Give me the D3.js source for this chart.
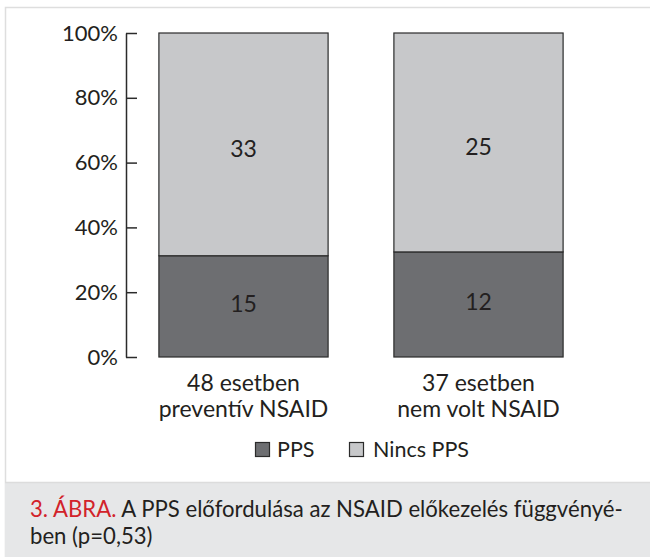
<!DOCTYPE html>
<html>
<head>
<meta charset="utf-8">
<script src="https://cdn.jsdelivr.net/npm/d3@7"></script>
<style>
  html, body { margin: 0; padding: 0; background: #fff; }
  svg { display: block; font-family: Lato, "Open Sans", sans-serif; }
</style>
</head>
<body>
<svg id="chart" width="650" height="557"></svg>
<script>
// ---- data ----
const categories = [["48 esetben", "preventív NSAID"], ["37 esetben", "nem volt NSAID"]];
const categoryKeys = ["prev", "nem"];
const seriesNames = ["PPS", "Nincs PPS"];
const ppsValues = [15, 12];
const ninesValues = [33, 25];
const yTicks = [0, 0.2, 0.4, 0.6, 0.8, 1.0];
const captionRed = "3. ÁBRA.";
const captionLine1 = " A PPS előfordulása az NSAID előkezelés függvényé-";
const captionLine2 = "ben (p=0,53)";

// ---- styles ----
const colors = ["#6d6e71", "#c7c8ca"];
const textColor = "#231f20";
const stroke = "#2b2b2b";

const svg = d3.select("#chart");

// frame & caption background
svg.append("rect").attr("x", 5.5).attr("y", 7.5).attr("width", 700).attr("height", 600)
  .attr("fill", "#fff").attr("stroke", "#dedede").attr("stroke-width", 1.5);
svg.append("rect").attr("x", 5).attr("y", 483).attr("width", 650).attr("height", 80)
  .attr("fill", "#e6e7e8");
svg.append("line").attr("x1", 5).attr("x2", 650).attr("y1", 482.5).attr("y2", 482.5)
  .attr("stroke", "#dcdcdc").attr("stroke-width", 1.5);

// scales
const x = d3.scaleBand().domain(categoryKeys).range([126, 596]).paddingInner(0.28).paddingOuter(0.14);
const y = d3.scaleLinear().domain([0, 1]).range([357, 33]);

const rows = categoryKeys.map((k, i) => ({ key: k, PPS: ppsValues[i], "Nincs PPS": ninesValues[i] }));
const stack = d3.stack().keys(seriesNames).offset(d3.stackOffsetExpand);
const layers = stack(rows);

// bars
const g = svg.append("g");
layers.forEach((layer, li) => {
  g.selectAll(null).data(layer).enter().append("rect")
    .attr("x", d => x(d.data.key))
    .attr("y", d => y(d[1]))
    .attr("width", x.bandwidth())
    .attr("height", d => y(d[0]) - y(d[1]))
    .attr("fill", colors[li])
    .attr("stroke", stroke)
    .attr("stroke-width", 1.2);
});
// value labels
const labelOffset = [-3, 4];
layers.forEach((layer, li) => {
  g.selectAll(null).data(layer).enter().append("text")
    .attr("x", d => x(d.data.key) + x.bandwidth() / 2)
    .attr("y", d => (y(d[0]) + y(d[1])) / 2 + labelOffset[li])
    .attr("text-anchor", "middle")
    .attr("dominant-baseline", "central")
    .attr("font-size", 23)
    .attr("fill", textColor)
    .text(d => d.data[layer.key]);
});

// y axis
const yAxis = d3.axisLeft(y).tickValues(yTicks).tickFormat(d3.format(".0%"))
  .tickSizeInner(-11).tickSizeOuter(0).tickPadding(8);
const ax = svg.append("g").attr("transform", "translate(126,0)").call(yAxis);
ax.select(".domain").attr("stroke", stroke).attr("stroke-width", 1.5);
ax.selectAll(".tick line").attr("stroke", stroke).attr("stroke-width", 1.5);
ax.selectAll(".tick text").attr("font-size", 22).attr("fill", textColor)
  .attr("font-family", "Lato, sans-serif");

// x labels
categoryKeys.forEach((k, i) => {
  const t = svg.append("text").attr("text-anchor", "middle").attr("font-size", 23).attr("fill", textColor);
  categories[i].forEach((line, j) => {
    t.append("tspan").attr("x", x(k) + x.bandwidth() / 2).attr("y", 391 + j * 26).text(line);
  });
});

// legend
const legendItems = [{ name: seriesNames[0], sx: 255, tx: 277 }, { name: seriesNames[1], sx: 349, tx: 373 }];
legendItems.forEach((it, i) => {
  svg.append("rect").attr("x", it.sx + 0.5).attr("y", 442.5).attr("width", 14).attr("height", 14)
    .attr("fill", colors[i]).attr("stroke", stroke).attr("stroke-width", 1.2);
  svg.append("text").attr("x", it.tx).attr("y", 457).attr("font-size", 21.5).attr("fill", textColor).text(it.name);
});

// caption (condensed horizontally to match the narrow caption face)
const capG = svg.append("g");
const cap1 = capG.append("text").attr("x", 0).attr("y", 517).attr("font-size", 22.5);
cap1.append("tspan").attr("fill", "#d2232a").text(captionRed);
cap1.append("tspan").attr("fill", textColor).text(captionLine1);
capG.append("text").attr("x", 0).attr("y", 544).attr("font-size", 22.5).attr("fill", textColor).text(captionLine2);
const natural = cap1.node().getComputedTextLength();
const sx = 593 / natural;
capG.attr("transform", `translate(30,0) scale(${sx},1)`);
</script>
</body>
</html>
